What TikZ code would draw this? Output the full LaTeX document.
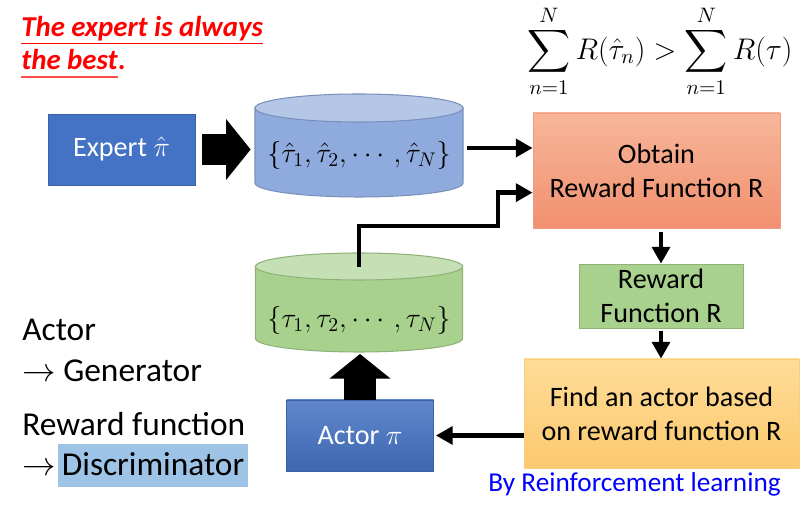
\RequirePackage{fix-cm}
\documentclass[tikz,border=0pt]{standalone}
\usepackage{amsmath,amssymb}
\usepackage{fontspec}
\setmainfont{Carlito}
\usetikzlibrary{arrows.meta,calc,positioning}

\definecolor{agentblue}{HTML}{4472C4}
\definecolor{trajblue}{HTML}{8FAADC}
\definecolor{trajbluetop}{HTML}{B4C7E7}
\definecolor{trajgreen}{HTML}{A9D18E}
\definecolor{trajgreentop}{HTML}{C5E0B4}
\definecolor{obtaintop}{HTML}{F7B699}
\definecolor{obtainbot}{HTML}{F19070}
\definecolor{findtop}{HTML}{FFDC98}
\definecolor{findbot}{HTML}{FBC96E}
\definecolor{markblue}{HTML}{9DC3E6}

\begin{document}
\begin{tikzpicture}[>=Stealth,
  boxtext/.style={font=\fontsize{16}{19.5}\selectfont, align=center, inner sep=0pt},
  agentbox/.style={boxtext, draw=agentblue!85!black, fill=agentblue, text=white,
    minimum width=2.94cm, minimum height=1.42cm},
  conn/.style={line width=2.6pt, -{Triangle[length=9.5pt,width=10pt]}},
  fatarrow/.style={line width=18pt, -{Triangle[length=14pt,width=34pt]}},
  mottotext/.style={anchor=base west, inner sep=0pt, text=red,
    font=\fontsize{16.4}{19}\selectfont\bfseries\itshape},
  sidelbl/.style={anchor=base west, inner sep=0pt, font=\fontsize{19}{22}\selectfont}]
  \useasboundingbox (0,0) rectangle (16.04,10.14);
  % Claim and condition on top
  \node[mottotext] (motto1) at (0.42,9.40) {The expert is always};
  \node[mottotext] (motto2) at (0.42,8.74) {the best};
  \node[mottotext] (mottodot) at (motto2.base east) {.};
  \draw[red, line width=0.8pt] ([yshift=-0.13cm]motto1.base west) -- ([yshift=-0.13cm]motto1.base east);
  \draw[red!70, line width=0.8pt] ([yshift=-0.14cm]motto2.base west) -- ([yshift=-0.14cm]motto2.base east);
  \node[font=\fontsize{17}{20}\selectfont] (cond) at (13.2,9.12)
    {$\displaystyle\sum_{n=1}^{N} R(\hat{\tau}_n) > \sum_{n=1}^{N} R(\tau)$};
  % Expert trajectories
  \filldraw[draw=trajblue!85!black, line width=0.6pt, fill=trajblue]
    (5.10,7.98) -- (5.10,6.48) arc[start angle=180, end angle=360, x radius=2.08, y radius=0.28]
    -- (9.26,7.98) -- cycle;
  \filldraw[draw=trajblue!85!black, line width=0.6pt, fill=trajbluetop] (7.18,7.98) ellipse (2.08 and 0.28);
  \node[boxtext, minimum width=4.16cm] (ecyl) at (7.18,7.04)
    {$\{\hat{\tau}_1,\hat{\tau}_2,\cdots,\hat{\tau}_N\}$};
  % Actor trajectories
  \filldraw[draw=trajgreen!85!black, line width=0.6pt, fill=trajgreen]
    (5.11,4.81) -- (5.11,3.37) arc[start angle=180, end angle=360, x radius=2.07, y radius=0.27]
    -- (9.25,4.81) -- cycle;
  \filldraw[draw=trajgreen!85!black, line width=0.6pt, fill=trajgreentop] (7.18,4.81) ellipse (2.07 and 0.27);
  \node[boxtext, minimum width=4.14cm] (gcyl) at (7.18,3.74)
    {$\{\tau_1,\tau_2,\cdots,\tau_N\}$};
  \coordinate (gtop) at (7.18,4.80);
  \coordinate (gbot) at (7.2,3.06);
  % Boxes
  \node[agentbox] (expert) at (2.43,7.15) {Expert $\hat{\pi}$};
  \node[agentbox, top color=agentblue!85!white, bottom color=agentblue!90!black] (actor) at (7.2,1.43) {Actor $\pi$};
  \node[boxtext, draw=obtainbot!90!white, top color=obtaintop, bottom color=obtainbot,
    minimum width=4.94cm, minimum height=2.3cm] (obtain) at (13.13,6.73) {Obtain\\Reward Function R};
  \node[boxtext, draw=trajgreen!85!black, fill=trajgreen,
    minimum width=3.28cm, minimum height=1.28cm] (reward) at (13.22,4.22) {Reward\\Function R};
  \node[boxtext, draw=findbot!90!white, top color=findtop, bottom color=findbot,
    minimum width=5.5cm, minimum height=2.18cm] (find) at (13.23,1.87) {Find an actor based\\on reward function R};
  % Arrows
  \draw[fatarrow, shorten <=0.14cm, shorten >=0.08cm] (expert.east) -- (expert.east -| ecyl.west);
  \draw[conn, shorten <=0.08cm] ([yshift=0.14cm]ecyl.east) -- ([yshift=0.14cm]ecyl.east -| obtain.west);
  \draw[conn] (gtop) |- (9.96,5.62) |- ([yshift=-1.6cm]obtain.north west);
  \draw[conn, shorten <=0.08cm] (reward.north |- obtain.south) -- (reward.north);
  \draw[conn, shorten <=0.06cm] (reward.south) -- (reward.south |- find.north);
  \draw[conn, shorten >=0.04cm] (actor.east -| find.west) -- (actor.east);
  \draw[fatarrow] (actor.north) -- (gbot);
  % Side notes
  \node[sidelbl] (actorlbl) at (0.44,3.32) {Actor};
  \node[sidelbl] (genlbl) at (0.44,2.50) {$\rightarrow$ Generator};
  \node[sidelbl] (rewlbl) at (0.44,1.42) {Reward function};
  \node[sidelbl] (discarrow) at (0.44,0.62) {$\rightarrow$};
  \node[sidelbl, fill=markblue, inner xsep=2pt, text height=0.64cm, text depth=0.22cm] (disclbl) at (1.16,0.62)
    {Discriminator};
  \node[anchor=base east, inner sep=0pt, font=\fontsize{15.5}{18}\selectfont, text=blue] (rlnote) at (15.62,0.30)
    {By Reinforcement learning};
\end{tikzpicture}
\end{document}
